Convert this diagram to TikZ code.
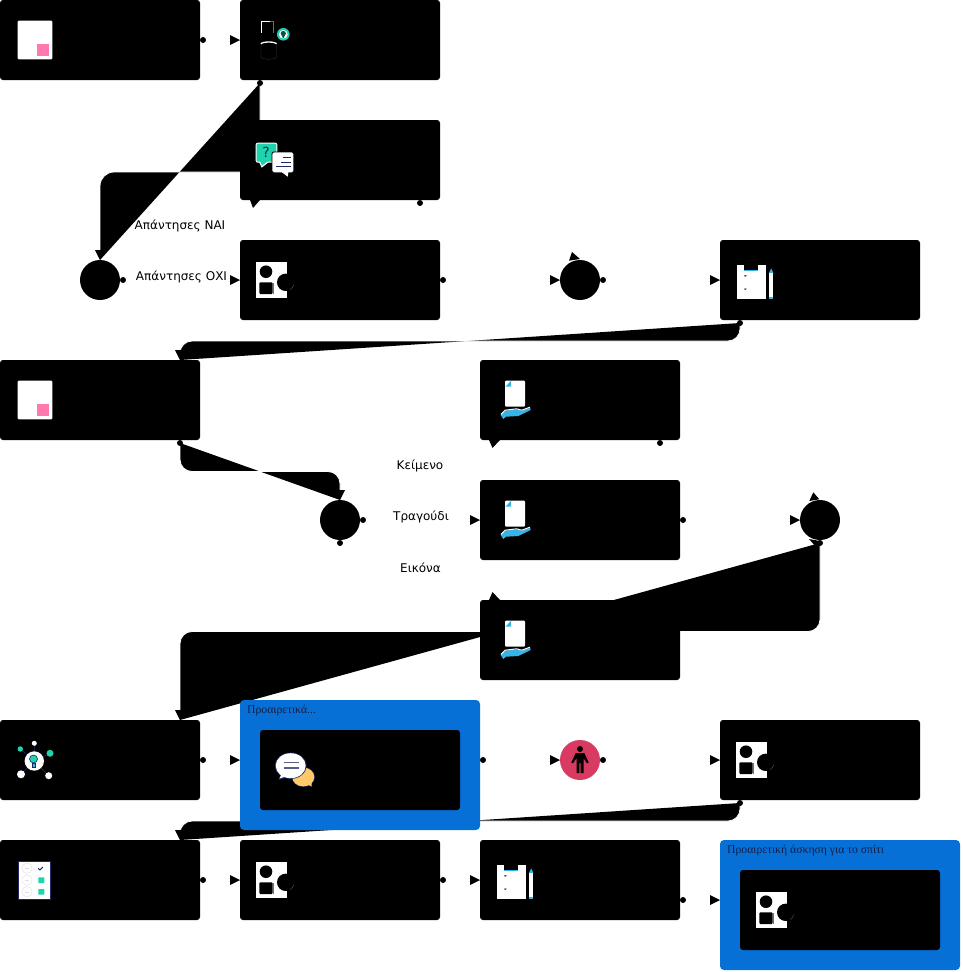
\documentclass[tikz,border=0pt]{standalone}
\usepackage{fontspec}
\setmainfont{DejaVu Sans}
\newfontfamily\groupfont{Liberation Serif}
\usetikzlibrary{positioning, arrows.meta, backgrounds}
\definecolor{groupblue}{HTML}{0670D6}
\definecolor{teal}{HTML}{1FD3AE}
\definecolor{navy}{HTML}{1E2A66}
\definecolor{sky}{HTML}{36B4E8}
\definecolor{rose}{HTML}{FF78AE}
\definecolor{crimson}{HTML}{D93A62}
\definecolor{amber}{HTML}{FDC969}
\tikzset{%
  taskbox/.style={fill=black, rounded corners=3pt, minimum width=200pt, minimum height=80pt, inner sep=0pt, outer sep=0pt, anchor=north west},
  groupbox/.style={fill=groupblue, rounded corners=4pt, minimum width=240pt, minimum height=130pt, inner sep=0pt, outer sep=0pt, anchor=north west},
  gate/.style={circle, fill=black, minimum size=40pt, inner sep=0pt, outer sep=0pt},
  port/.style={circle, fill=black, minimum size=6pt, inner sep=0pt, outer sep=0pt},
  flow/.style={draw=white, line width=0.8pt, rounded corners=14pt, preaction={fill=black, draw=none},
    -{Triangle[black, length=10pt, width=10pt, line width=0pt]}},
  choice/.style={font=\fontsize{12}{14}\selectfont, inner sep=0pt},
  grouptitle/.style={font=\fontsize{11.7}{14}\selectfont\groupfont, text=navy!70!black, inner sep=0pt, anchor=west},
  sheeticon/.pic={
    \fill[white, rounded corners=1pt] (17.7,20.7) rectangle (52.3,59.3);
    \fill[rose] (37.3,44) rectangle (49,55.7);
  },
  shapesicon/.pic={
    \fill[white] (15.7,21.7) rectangle (46.7,58.3);
    \fill[black] (26,31.7) circle (6.3);
    \fill[black, rounded corners=1pt] (19.3,42.3) rectangle (32.7,54);
    \draw[crimson, line width=0.25pt] (32.7,43) -- (32.7,54);
    \fill[black] (45.7,42.3) circle (8.7);
    \draw[crimson, line width=0.25pt] (53.8,45) arc (20:60:8.7);
  },
  boardicon/.pic={
    \fill[white] (16.7,25) rectangle (45.7,59.3);
    \fill[black] (24.3,24) rectangle (38.3,29.5);
    \fill[sky] (24.3,29.5) rectangle (38.3,30.5);
    \fill[black] (24.2,35.3) -- (26.8,35.3) -- (25,36.8) -- cycle;
    \fill[black] (24.2,48.6) -- (26.8,48.6) -- (25,50.1) -- cycle;
    \fill[sky] (49,33) -- (51.2,28.3) -- (53.3,33) -- cycle;
    \fill[white] (49,33) rectangle (53.3,56.7);
    \fill[sky] (49,56.7) rectangle (53.3,59.3);
  },
  storeicon/.pic={
    \draw[white, line width=1.3pt] (21.3,32.6) -- (21.3,21.4) -- (30,21.4);
    \draw[teal!70!black, line width=0.8pt] (30,21.4) -- (33,21.4) -- (33,33);
    \fill[teal] (43.3,34.3) circle (6.3);
    \fill[white] (43.3,34.3) circle (4.3);
    \fill[teal!40!black] (40.7,33.5) arc (180:360:2.6) -- (43.3,38.6) -- cycle;
    \draw[white, line width=1.3pt] (21,44) arc (180:360:7.7 and 2);
    \draw[gray!45!black, line width=0.3pt] (20.9,44) -- (20.9,57) arc (180:0:7.8 and 2.2) -- (36.5,44);
  },
  talkicon/.pic={
    \fill[white, rounded corners=2pt] (15.7,22.7) rectangle (37.3,42.7);
    \fill[white] (19,42) -- (21.7,47.7) -- (29,42) -- cycle;
    \fill[teal, rounded corners=1pt] (16.7,23.7) rectangle (36.3,41.7);
    \fill[teal] (20,41) -- (22,45.7) -- (28,41) -- cycle;
    \node[text=navy, inner sep=0pt, font=\fontsize{14}{14}\selectfont] (qmark) at (26,32.5) {?};
    \fill[black, rounded corners=2pt] (31.6,31.6) rectangle (54,53);
    \fill[white, rounded corners=1.5pt] (32.4,32.4) rectangle (53.3,52.3);
    \fill[white] (41,51.5) -- (47.7,56.7) -- (48.5,51.5) -- cycle;
    \draw[navy, line width=0.9pt] (43,37.5) -- (50.5,37.5) (41,42) -- (50.5,42) (36,46.5) -- (50.5,46.5);
  },
  handicon/.pic={
    \fill[white, rounded corners=1pt] (25,20.7) rectangle (45,46.7);
    \fill[sky] (25.5,26.7) -- (31,20.7) -- (31,26.7) -- cycle;
    \fill[sky] (20.7,55) -- (25,50.7) -- (36.7,49.3) -- (41.7,50.7) -- (50,47.7) -- (50.7,50) -- (38.3,56) -- (26,56.7) -- (23.3,59) -- cycle;
    \draw[white, line width=1pt] (21,54.4) -- (25,50.2) -- (36.7,48.8) -- (41.7,50.2) -- (50,47.2);
  },
  bulbicon/.pic={
    \draw[navy, line width=0.6pt] (34.3,41) -- (20.3,29) (34.3,41) -- (34.3,23.3) (34.3,41) -- (50,33.3) (34.3,41) -- (21,54.3) (34.3,41) -- (48.7,55.7);
    \fill[teal] (20.3,29) circle (2.7);
    \fill[white] (34.3,23.3) circle (2.5);
    \fill[teal] (50,33.3) circle (3.5);
    \fill[white] (21,54.3) circle (4);
    \fill[white] (48.7,55.7) circle (3.5);
    \fill[white] (34.3,41) circle (9.7);
    \fill[teal, draw=navy, line width=0.6pt] (33.5,39) circle (4);
    \fill[sky, draw=navy, line width=0.6pt] (31.8,43) rectangle (35.4,47);
  },
  chaticon/.pic={
    \fill[navy] (43.3,47) ellipse (11.7 and 10);
    \fill[amber] (43.3,47) ellipse (11 and 9.4);
    \fill[amber] (47,54) -- (51.7,56.7) -- (51.5,50) -- cycle;
    \fill[navy] (30.7,35.7) ellipse (15.8 and 13.2);
    \fill[navy] (21,43) -- (18.5,50) -- (31,46) -- cycle;
    \fill[white] (30.7,35.7) ellipse (15 and 12.5);
    \fill[white] (22,43) -- (19.5,48.5) -- (30,45) -- cycle;
    \draw[navy!75!white, line width=1.1pt] (23.5,32.7) -- (38.5,32.7) (23.5,38) -- (38.5,38);
  },
  surveyicon/.pic={
    \fill[white, draw=navy, line width=0.7pt] (18,21) rectangle (50,59);
    \foreach \rowy in {28.3,40,51.7} {
      \draw[gray!25, line width=0.4pt] (27,\rowy) circle (5.2);
      \draw[gray!25, line width=0.4pt] (25,\rowy) -- (29,\rowy);
    }
    \draw[navy, line width=1pt] (38.2,28.4) -- (40,30) -- (42.8,27);
    \fill[teal, rounded corners=0.5pt] (38.3,37.3) rectangle (44.3,43);
    \fill[teal, rounded corners=0.5pt] (38.3,49) rectangle (44.3,54.7);
  },
  personicon/.pic={
    \fill[black] (0,-11) circle (3);
    \fill[black] (-4.3,-7) -- (4.3,-7) -- (8.7,2.5) -- (7,3.3) -- (3.5,-2) -- (3.5,13) -- (0.7,13) -- (0.7,3) -- (-0.7,3) -- (-0.7,13) -- (-3.5,13) -- (-3.5,-2) -- (-7,3.3) -- (-8.7,2.5) -- cycle;
  }
}

\begin{document}
\begin{tikzpicture}[x=1pt, y=-1pt]
\useasboundingbox (0,0) rectangle (962,972);

\node[taskbox] (t1) at (0,0) {};
\node[taskbox, right=40pt of t1] (t2) {};
\node[taskbox, below=40pt of t2] (t3) {};
\node[taskbox, below=40pt of t3] (t4) {};
\node[gate, left=120pt of t4] (g1) {};
\node[gate, right=120pt of t4] (g2) {};
\node[taskbox, right=120pt of g2] (t5) {};

\node[taskbox] (t6) at (0,360) {};
\node[taskbox] (t8) at (480,480) {};
\node[taskbox, above=40pt of t8] (t7) {};
\node[taskbox, below=40pt of t8] (t9) {};
\node[gate, left=120pt of t8] (g3) {};
\node[gate, right=120pt of t8] (g4) {};

\node[taskbox] (t10) at (0,720) {};
\node[groupbox] (grp1) at (240,700) {};
\node[taskbox] (t11) at (260,730) {};
\node[gate, fill=crimson] (g5) at (580,760) {};
\node[taskbox, right=120pt of g5] (t12) {};

\node[taskbox, below=40pt of t10] (t13) {};
\node[taskbox, right=40pt of t13] (t14) {};
\node[taskbox, right=40pt of t14] (t15) {};
\node[groupbox] (grp2) at (720,840) {};
\node[taskbox] (t16) at (740,870) {};

\node[grouptitle] (title1) at (247,711) {Προαιρετικά...};
\node[grouptitle] (title2) at (727,851) {Προαιρετική άσκηση για το σπίτι};

\node[port, right=0pt of t1] (p1) {};
\node[port, below=0pt of t2.south west, xshift=20pt] (p2) {};
\node[port, below=0pt of t3.south east, xshift=-20pt] (p3) {};
\node[port, right=0pt of g1] (p4) {};
\node[port, right=0pt of t4] (p5) {};
\node[port, right=0pt of g2] (p6) {};
\node[port, below=0pt of t5.south west, xshift=20pt] (p7) {};
\node[port, below=0pt of t6.south east, xshift=-20pt] (p8) {};
\node[port, below=0pt of t7.south east, xshift=-20pt] (p9) {};
\node[port, right=0pt of g3] (p10) {};
\node[port, below=0pt of g3] (p11) {};
\node[port, right=0pt of t8] (p12) {};
\node[port, below=0pt of g4] (p13) {};
\node[port, right=0pt of t10] (p14) {};
\node[port, right=0pt of grp1, yshift=5pt] (p15) {};
\node[port, right=0pt of g5] (p16) {};
\node[port, below=0pt of t12.south west, xshift=20pt] (p17) {};
\node[port, right=0pt of t13] (p18) {};
\node[port, right=0pt of t14] (p19) {};
\node[port, right=0pt of t15, yshift=-20pt] (p20) {};

\begin{scope}[on background layer]
\draw[flow] (p1) -- (t2);
\draw[flow] (p2.center) -- ++(0,89) -| (g1.north);
\draw[flow] (p4) -- (t4);
\draw[flow] (p5) -- (g2);
\draw[flow] (p6) -- (t5);
\draw[flow, rounded corners=12pt] (p7.center) -- ++(0,18) -| ([xshift=-20pt]t6.north east);
\draw[flow, rounded corners=12pt] (p8.center) -- ++(0,28.5) -| (g3.north);
\draw[flow] (p10) -- (t8);
\draw[flow] (p12) -- (g4);
\draw[flow, rounded corners=12pt] (p13.center) -- ++(0,88.5) -| ([xshift=-20pt]t10.north east);
\draw[flow] (p14) -- (p14 -| grp1.west);
\draw[flow] (p15) -- (g5);
\draw[flow] (p16) -- (t12);
\draw[flow, rounded corners=12pt] (p17.center) -- ++(0,18) -| ([xshift=-20pt]t13.north east);
\draw[flow] (p18) -- (t14);
\draw[flow] (p19) -- (t15);
\draw[flow] (p20) -- (p20 -| grp2.west);
\end{scope}

\fill[shift={(t3.south west)}] (10,0) -- (20,0) -- (13,8) -- cycle;
\fill[shift={(t7.south west)}] (9,0) -- (20,0) -- (12.5,8) -- cycle;
\fill[shift={(t9.north west)}] (9,0) -- (20,0) -- (12.5,-8) -- cycle;
\fill[shift={(g2.center)}] (-11,-19.3) -- (0,-21) -- (-8,-28) -- cycle;
\fill[shift={(g4.center)}] (-10.7,-19) -- (-0.7,-20.7) -- (-6.7,-27.7) -- cycle;
\fill[shift={(g4.center)}] (-11,19) -- (0,21) -- (-4,27) -- cycle;

\pic at (t1.north west) {sheeticon};
\pic at (t2.north west) {storeicon};
\pic at (t3.north west) {talkicon};
\pic at (t4.north west) {shapesicon};
\pic at (t5.north west) {boardicon};
\pic at (t6.north west) {sheeticon};
\pic at (t7.north west) {handicon};
\pic at (t8.north west) {handicon};
\pic at (t9.north west) {handicon};
\pic at (t10.north west) {bulbicon};
\pic at (t11.north west) {chaticon};
\pic at (t12.north west) {shapesicon};
\pic at (t13.north west) {surveyicon};
\pic at (t14.north west) {shapesicon};
\pic at (t15.north west) {boardicon};
\pic at (t16.north west) {shapesicon};
\pic at (g5.center) {personicon};

\node[choice] (yes) at (180,226) {Απάντησες ΝΑΙ};
\node[choice] (no) at (181.5,277) {Απάντησες ΟΧΙ};
\node[choice] (text) at (420,466) {Κείμενο};
\node[choice] (song) at (421,517) {Τραγούδι};
\node[choice] (image) at (420.5,568) {Εικόνα};

\end{tikzpicture}
\end{document}
